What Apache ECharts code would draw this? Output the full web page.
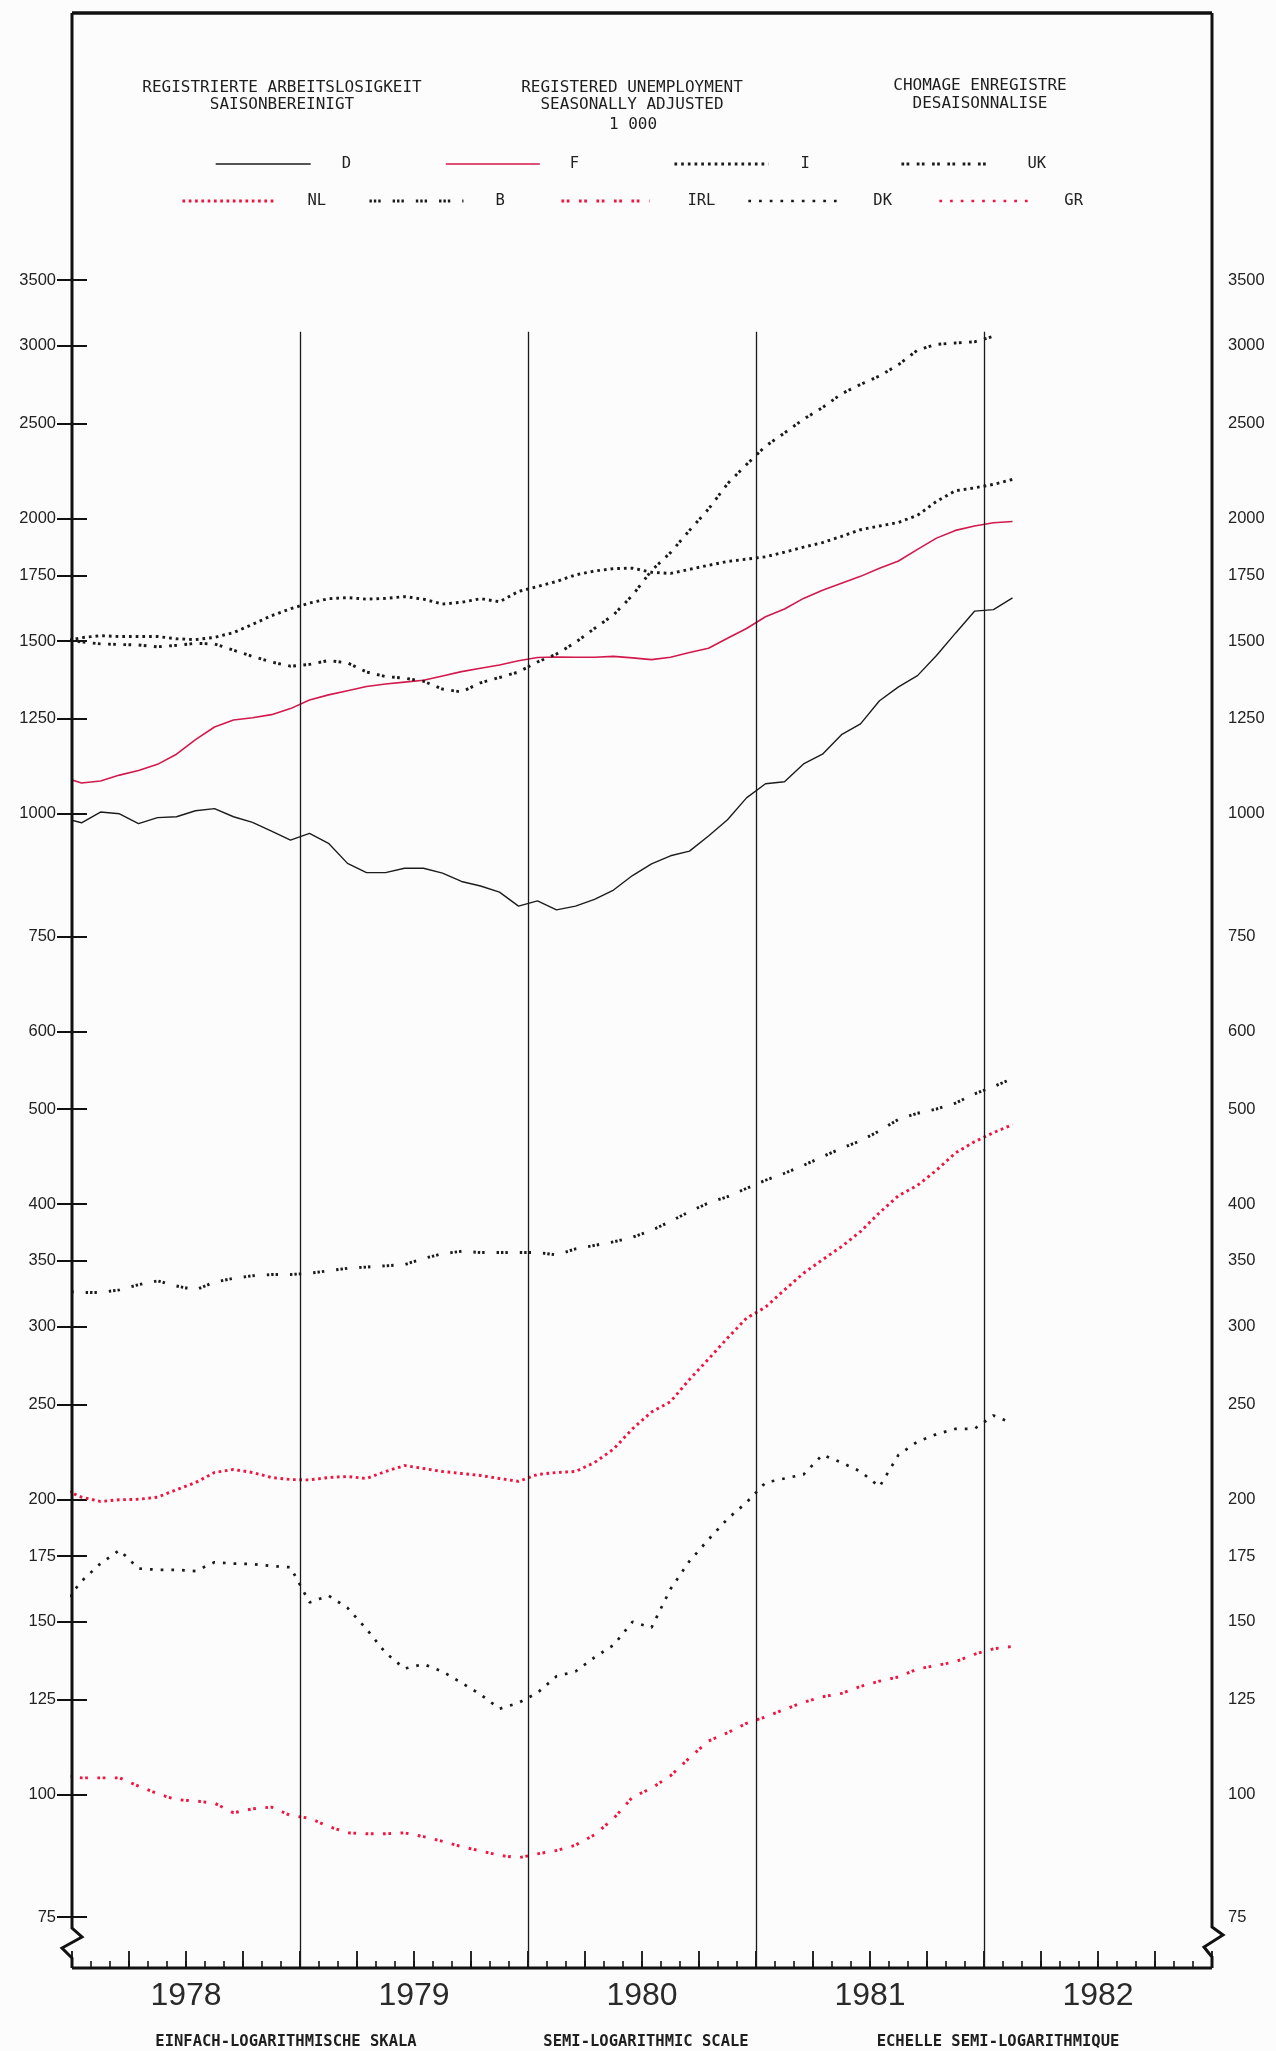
<!DOCTYPE html>
<html>
<head>
<meta charset="utf-8">
<script src="https://cdn.jsdelivr.net/npm/echarts@6/dist/echarts.min.js"></script>
<style>
html,body{margin:0;padding:0;background:#fcfcfc;}
#chart{width:1276px;height:2051px;}
</style>
</head>
<body>
<div id="chart"></div>
<script>
// ---------- DATA (thousands, seasonally adjusted, monthly, Dec 1977 .. Feb 1982) ----------
const months = [];
(function () { let y = 1977, m = 12; for (let i = 0; i < 51; i++) { months.push(y + '-' + String(m).padStart(2, '0')); m++; if (m > 12) { m = 1; y++; } } })();

const dValues = [991, 979, 1004, 1000, 977, 991, 993, 1007, 1012, 993, 980, 960, 940, 955, 933, 890, 871, 871, 880, 880, 870, 853, 844, 832, 805, 815, 798, 805, 818, 836, 865, 889, 906, 916, 949, 986, 1038, 1073, 1078, 1124, 1150, 1204, 1235, 1304, 1347, 1383, 1450, 1528, 1609, 1615, 1660];
const fValues = [1090, 1075, 1080, 1095, 1107, 1123, 1150, 1190, 1226, 1246, 1253, 1262, 1280, 1306, 1322, 1335, 1348, 1356, 1362, 1368, 1382, 1396, 1407, 1418, 1432, 1443, 1445, 1444, 1444, 1447, 1442, 1436, 1444, 1460, 1475, 1510, 1545, 1588, 1617, 1658, 1690, 1718, 1746, 1780, 1810, 1860, 1910, 1945, 1965, 1980, 1986];
const iValues = [1498, 1512, 1519, 1516, 1516, 1516, 1508, 1505, 1513, 1530, 1560, 1592, 1618, 1640, 1657, 1661, 1655, 1658, 1665, 1655, 1636, 1643, 1657, 1645, 1685, 1705, 1725, 1752, 1768, 1778, 1780, 1763, 1758, 1775, 1792, 1808, 1818, 1828, 1848, 1870, 1890, 1918, 1948, 1965, 1982, 2015, 2082, 2135, 2149, 2167, 2192];
const ukValues = [1507, 1497, 1490, 1488, 1486, 1480, 1485, 1492, 1490, 1468, 1447, 1428, 1414, 1420, 1433, 1425, 1395, 1380, 1375, 1365, 1340, 1331, 1360, 1377, 1395, 1428, 1455, 1495, 1545, 1595, 1670, 1770, 1846, 1945, 2045, 2170, 2270, 2370, 2445, 2525, 2595, 2680, 2740, 2795, 2870, 2970, 3010, 3020, 3028, 3068, null];
const nlValues = [205, 201, 199, 199.8, 200, 201, 204.5, 208, 213, 214.5, 213, 210.5, 209.5, 209.3, 210.5, 211, 210, 213.5, 216.5, 215, 213.5, 212.5, 211.5, 210, 208.6, 212, 213, 213.5, 218, 225, 236, 245.5, 251.5, 265, 278, 292, 306, 314, 327, 340, 351, 362, 375, 392, 408, 418, 433, 451, 463, 473, 482];
const bValues = [326, 325, 325, 327, 331, 334, 330, 327, 333, 336, 338, 339, 339, 340, 342, 344, 345, 346, 347, 352, 356, 358, 357, 357, 357, 357, 355, 360, 363, 366, 370, 376, 384, 393, 401, 407, 415, 423, 430, 438, 447, 456, 464, 475, 488, 495, 500, 507, 518, 527, 537];
const irlValues = [104.5, 104, 104, 104, 102, 100.2, 98.8, 98.5, 98, 95.8, 96.7, 97.1, 95.2, 94.6, 92.8, 91.4, 91.2, 91.2, 91.4, 90.6, 89.6, 88.5, 87.6, 86.7, 86.2, 87, 87.7, 88.8, 91, 94.5, 99.4, 101.5, 104.5, 109, 113.4, 115.6, 118.2, 120, 122.1, 124.2, 125.8, 126.8, 128.9, 130.5, 131.8, 134.3, 135.4, 136.6, 139, 140.8, 141.6];
const dkValues = [156, 165, 172, 177.5, 170, 169.5, 169.5, 169, 172.5, 172, 171.8, 171, 170.5, 157, 159.5, 155, 147.5, 139.5, 134.4, 135.8, 133.5, 130, 126.5, 122.3, 124, 127, 132, 133.5, 138, 142, 150, 148, 162, 173, 182, 191, 198.5, 208, 210, 212, 222, 218, 213.5, 206, 222, 229, 233, 236, 236, 243.5, 239];
const grValues = []; // Greece: below the plotted range (legend only)

const yTicks = [75, 100, 125, 150, 175, 200, 250, 300, 350, 400, 500, 600, 750, 1000, 1250, 1500, 1750, 2000, 2500, 3000, 3500];
const yearLabels = ['1978', '1979', '1980', '1981', '1982'];

// ---------- LAYOUT / STYLE ----------
const GL = 72, GRX = 1212, GT = 13, GB = 1968, W = 1276, H = 2051;
const yMin = 66.55, yMax = 6553;
const Y0 = 1978;                       // x axis counts months from Jan 1978
function monthPos(s) {                 // 'YYYY-MM' -> months since Jan 1978, at mid-month
  const p = s.split('-');
  return (Number(p[0]) - Y0) * 12 + (Number(p[1]) - 1) + 0.5;
}
const xMin = 0, xMax = 60;

const monthTicks = [], quarterTicks = [], yearMids = [], yearLines = [];
for (let i = xMin; i <= xMax; i++) { monthTicks.push(i); if (i % 3 === 0) quarterTicks.push(i); }
yearLabels.forEach((y, k) => yearMids.push(k * 12 + 6));
for (let k = 1; k < yearLabels.length; k++) yearLines.push(k * 12);

const ST = {
  D:   { color: '#1c1c1c', width: 1.4, type: 'solid' },
  F:   { color: '#d3184e', width: 1.6, type: 'solid' },
  I:   { color: '#1a1a1a', width: 2.9, type: [2.7, 4] },
  UK:  { color: '#1a1a1a', width: 2.9, type: [2.7, 2.4, 2.7, 7.5] },
  NL:  { color: '#f0143f', width: 2.9, type: [2.7, 3.6] },
  B:   { color: '#1a1a1a', width: 2.9, type: [2.4, 2, 2.4, 2, 2.4, 12] },
  IRL: { color: '#f0143f', width: 2.9, type: [2.7, 2.6, 2.7, 9.5] },
  DK:  { color: '#1a1a1a', width: 2.7, type: [2.7, 8] },
  GR:  { color: '#f0143f', width: 2.7, type: [2.7, 8] }
};

function mk(name, values, extra) {
  const st = ST[name];
  return Object.assign({
    name: name, type: 'line',
    data: values.map((v, i) => [monthPos(months[i]), v]),
    symbol: 'none', showSymbol: false, clip: true, connectNulls: false,
    lineStyle: { color: st.color, width: st.width, type: st.type, cap: 'butt' },
    itemStyle: { color: st.color },
    emphasis: { disabled: true }, silent: true, animation: false
  }, extra || {});
}

const LEG = [
  ['D', 215, 156, 95, 31], ['F', 445, 156, 94, 30], ['I', 673, 156, 94, 32], ['UK', 900, 156, 89, 37],
  ['NL', 181, 193, 94, 31], ['B', 368, 193, 94, 32], ['IRL', 560, 193, 88, 38], ['DK', 747, 193, 93, 32], ['GR', 938, 193, 94, 31]
];
const legends = LEG.map(l => ({
  data: [l[0]], left: l[1], top: l[2], itemWidth: l[3], itemHeight: 14, padding: 0,
  selectedMode: false, orient: 'horizontal',
  itemStyle: { opacity: 0, borderWidth: 0 },
  lineStyle: { color: ST[l[0]].color, width: ST[l[0]].width, type: ST[l[0]].type, cap: 'butt', opacity: 1 },
  textStyle: { fontFamily: '"DejaVu Sans Mono", monospace', fontSize: 15.5, color: '#222', padding: [0, 0, 0, l[4] - 5] }
}));

const mono = '"DejaVu Sans Mono", "Liberation Mono", monospace';
function txt(t, x, y, size, weight) {
  return { type: 'text', x: x, y: y, silent: true, z: 20,
    style: { text: t, font: (weight || 'normal') + ' ' + size + 'px ' + mono, fill: '#1e1e1e',
      align: 'center', verticalAlign: 'middle', textAlign: 'center', textVerticalAlign: 'middle' } };
}
function pl(points, w) {
  return { type: 'polyline', silent: true, z: 30, shape: { points: points },
    style: { stroke: '#111', lineWidth: w, fill: null, lineJoin: 'miter' } };
}

const yAxisBase = {
  type: 'log', min: yMin, max: yMax, gridIndex: 0,
  axisLine: { show: false },
  splitLine: { show: false }, minorTick: { show: false },
  axisTick: { show: true, inside: true, length: 15, customValues: yTicks, lineStyle: { color: '#111', width: 2 } },
  axisLabel: { show: true, customValues: yTicks, margin: 16, fontFamily: '"Liberation Sans", Arial, sans-serif', fontSize: 16.5, color: '#222',
    formatter: function (v) { return String(Math.round(v)); } }
};

const option = {
  backgroundColor: '#fcfcfc',
  animation: false,
  grid: { left: GL, right: W - GRX, top: GT, bottom: H - GB, containLabel: false, outerBoundsMode: 'none' },
  legend: legends,
  xAxis: [
    { type: 'value', min: xMin, max: xMax, position: 'bottom',
      axisLine: { show: false }, splitLine: { show: false },
      axisTick: { show: true, inside: true, length: 7, customValues: monthTicks, lineStyle: { color: '#111', width: 1.6 } },
      axisLabel: { show: true, customValues: yearMids, margin: 12, fontFamily: '"Liberation Sans", Arial, sans-serif', fontSize: 32, color: '#2a2a2a',
        formatter: function (v) { return yearLabels[Math.round((v - 6) / 12)] || ''; } } },
    { type: 'value', min: xMin, max: xMax, position: 'bottom',
      axisLine: { show: false }, splitLine: { show: false }, axisLabel: { show: false },
      axisTick: { show: true, inside: true, length: 17, customValues: quarterTicks, lineStyle: { color: '#111', width: 1.8 } } }
  ],
  yAxis: [
    Object.assign({}, yAxisBase, { position: 'left' }),
    Object.assign({}, yAxisBase, { position: 'right' })
  ],
  series: [
    mk('D', dValues, {
      markLine: { silent: true, symbol: ['none', 'none'], label: { show: false }, animation: false,
        lineStyle: { color: '#1a1a1a', width: 1.3, type: 'solid' }, emphasis: { disabled: true },
        data: yearLines.map(d => [{ coord: [d, 3100] }, { coord: [d, yMin] }]) }
    }),
    mk('F', fValues),
    mk('I', iValues),
    mk('UK', ukValues),
    mk('NL', nlValues),
    mk('B', bValues),
    mk('IRL', irlValues),
    mk('DK', dkValues),
    mk('GR', grValues)
  ],
  graphic: [
    pl([[GL, GT], [GRX, GT]], 3.5),
    pl([[GL, GT], [GL, 1928], [GL + 10, 1937], [GL - 10, 1948], [GL, 1958], [GL, GB]], 3),
    pl([[GRX, GT], [GRX, 1927], [GRX + 11, 1935], [GRX - 8, 1947], [GRX, 1957], [GRX, GB]], 3),
    pl([[GL, GB], [GRX, GB]], 3),
    txt('REGISTRIERTE ARBEITSLOSIGKEIT', 282, 88, 16),
    txt('SAISONBEREINIGT', 282, 105, 16),
    txt('REGISTERED UNEMPLOYMENT', 632, 88, 16),
    txt('SEASONALLY ADJUSTED', 632, 105, 16),
    txt('1 000', 633, 125, 16),
    txt('CHOMAGE ENREGISTRE', 980, 86, 16),
    txt('DESAISONNALISE', 980, 104, 16),
    txt('EINFACH-LOGARITHMISCHE SKALA', 286, 2042, 15.5, 'bold'),
    txt('SEMI-LOGARITHMIC SCALE', 646, 2042, 15.5, 'bold'),
    txt('ECHELLE SEMI-LOGARITHMIQUE', 998, 2042, 15.5, 'bold')
  ]
};

const chart = echarts.init(document.getElementById('chart'), null, { renderer: 'canvas', width: W, height: H });
chart.setOption(option);
</script>
</body>
</html>
